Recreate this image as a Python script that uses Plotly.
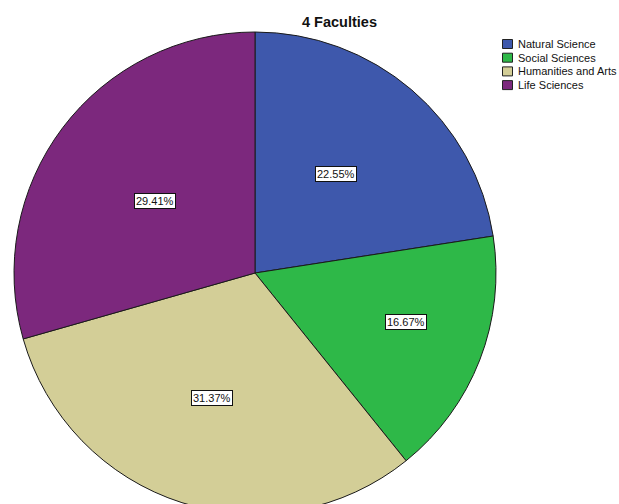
import math
import plotly.graph_objects as go

# Faculty shares (counts out of 102 students)
faculties = ["Natural Science", "Social Sciences", "Humanities and Arts", "Life Sciences"]
counts = [23, 17, 32, 30]
colors = ["#3E58AC", "#2EB848", "#D3CE97", "#7C287D"]

W, H = 619, 520          # figure slightly taller than the window so the pie runs off the bottom
CX, CY, R = 255, 273, 241  # pie centre and radius in pixels
label_dist = [0.53, 0.66, 0.55, 0.51]   # radial placement of the percentage boxes
label_turn = [-1.1, -3.3, 1.3, -1.2]    # small angular nudge (degrees) from each slice's mid angle
FONT = "Arial, Liberation Sans, sans-serif"

fig = go.Figure()
fig.add_trace(go.Pie(
    labels=faculties,
    values=counts,
    sort=False,
    direction="clockwise",
    rotation=0,
    marker=dict(colors=colors, line=dict(color="#1a1a1a", width=1)),
    textinfo="none",
    hoverinfo="label+percent",
    showlegend=False,
    domain=dict(x=[(CX - R) / W, (CX + R) / W], y=[1 - (CY + R) / H, 1 - (CY - R) / H]),
))

# percentage boxes placed along each slice's mid angle
total = sum(counts)
cum = 0
for c, f, t in zip(counts, label_dist, label_turn):
    mid = (cum + c / 2) / total * 2 * math.pi + math.radians(t)
    cum += c
    px = CX + f * R * math.sin(mid)
    py = CY - f * R * math.cos(mid)
    fig.add_annotation(
        x=px / W, y=1 - py / H, xref="paper", yref="paper",
        xanchor="center", yanchor="middle",
        text=f"{100 * c / total:.2f}%", showarrow=False,
        font=dict(family=FONT, size=11, color="#111"),
        bgcolor="white", bordercolor="#111", borderwidth=1, borderpad=1,
    )

# legend drawn as swatches + text
LX, LY, STEP, SW = 502.5, 44, 13.7, 9
for i, (name, col) in enumerate(zip(faculties, colors)):
    yc = LY + i * STEP
    fig.add_shape(
        type="rect", xref="paper", yref="paper",
        x0=LX / W, x1=(LX + SW + 1) / W,
        y0=1 - (yc + SW / 2) / H, y1=1 - (yc - SW / 2) / H,
        fillcolor=col, line=dict(color="#222", width=1),
    )
    fig.add_annotation(
        x=(LX + 13) / W, y=1 - yc / H, xref="paper", yref="paper",
        xanchor="left", yanchor="middle", text=name, showarrow=False,
        font=dict(family=FONT, size=11, color="#111"),
    )

fig.add_annotation(
    x=339 / W, y=1 - 22 / H, xref="paper", yref="paper",
    xanchor="center", yanchor="middle",
    text="<b>4 Faculties</b>", showarrow=False,
    font=dict(family=FONT, size=14.5, color="#111"),
)

fig.update_layout(
    width=W, height=H,
    margin=dict(l=0, r=0, t=0, b=0),
    paper_bgcolor="white", plot_bgcolor="white",
)

fig.write_html(
    "out.html",
    post_script="document.documentElement.style.overflow='hidden';"
                "document.body.style.overflow='hidden';document.body.style.margin='0';",
)
